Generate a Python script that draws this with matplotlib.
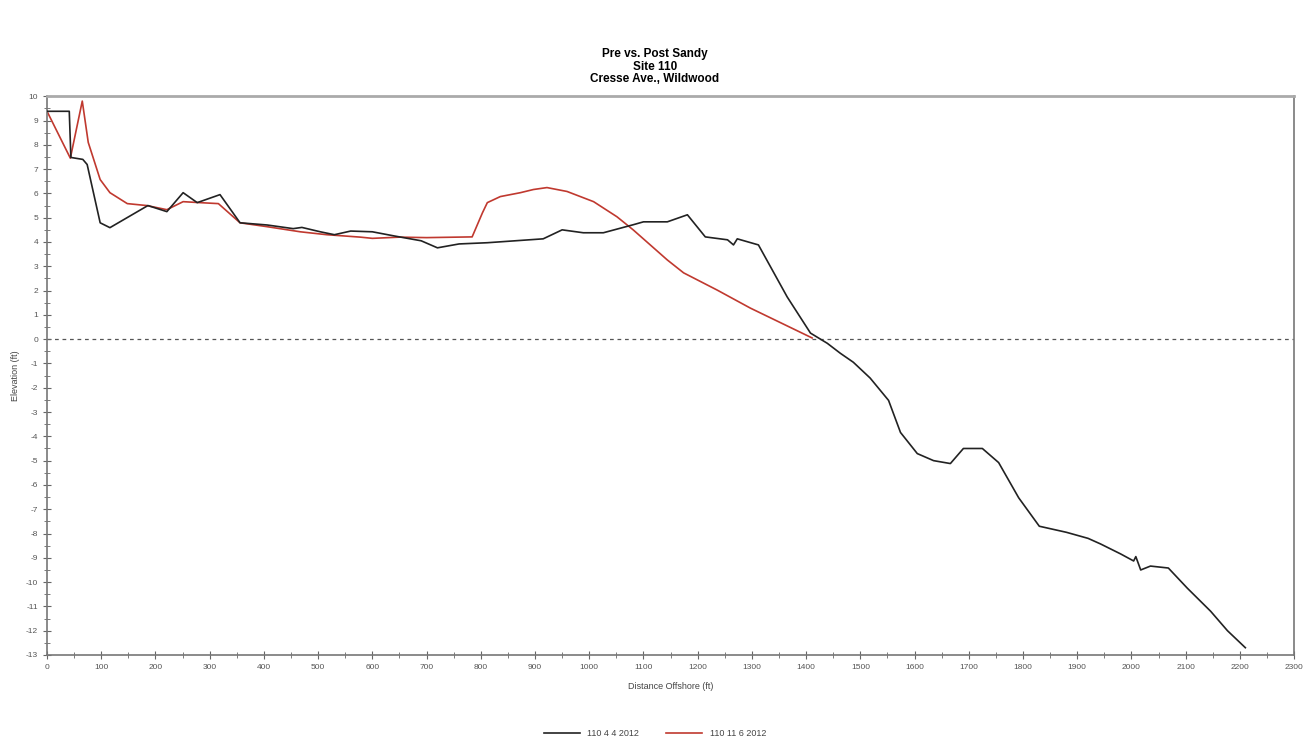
import matplotlib
matplotlib.use("Agg")
import matplotlib.pyplot as plt
from matplotlib.ticker import MultipleLocator

plt.rcParams['font.family'] = ['Liberation Sans Narrow', 'Liberation Sans', 'DejaVu Sans']
plt.rcParams['axes.unicode_minus'] = False

# pre-storm survey (110 4 4 2012)
pre_x = [0, 41, 44, 66, 74, 98, 116, 186, 221, 251, 277, 319, 356, 406, 454, 470, 504,
         530, 560, 600, 640, 690, 720, 760, 812, 915, 950, 989, 1026, 1081, 1100, 1144,
         1181, 1214, 1255, 1266, 1273, 1312, 1365, 1408, 1439, 1463, 1487, 1518, 1552,
         1574, 1605, 1635, 1666, 1690, 1725, 1755, 1792, 1830, 1880, 1920, 1943, 1980,
         2004, 2008, 2017, 2035, 2068, 2103, 2146, 2177, 2210]
pre_y = [9.38, 9.38, 7.48, 7.4, 7.19, 4.79, 4.59, 5.5, 5.25, 6.03, 5.62, 5.95, 4.79, 4.7,
         4.55, 4.6, 4.42, 4.3, 4.45, 4.42, 4.25, 4.05, 3.76, 3.92, 3.97, 4.13, 4.5, 4.38,
         4.38, 4.71, 4.83, 4.83, 5.12, 4.21, 4.09, 3.88, 4.13, 3.88, 1.74, 0.25, -0.17,
         -0.58, -0.95, -1.6, -2.52, -3.84, -4.71, -5.0, -5.12, -4.5, -4.5, -5.08, -6.53,
         -7.7, -7.95, -8.2, -8.43, -8.84, -9.13, -8.95, -9.5, -9.34, -9.42, -10.25,
         -11.2, -12.0, -12.7]

# post-storm survey (110 11 6 2012)
post_x = [0, 43, 65, 76, 98, 116, 148, 184, 221, 251, 282, 316, 356, 406, 467, 516, 541,
          578, 600, 650, 700, 784, 803, 812, 836, 873, 897, 922, 959, 1008, 1051, 1081,
          1144, 1174, 1236, 1297, 1411]
post_y = [9.38, 7.45, 9.8, 8.1, 6.57, 6.03, 5.58, 5.5, 5.33, 5.66, 5.62, 5.58, 4.79,
          4.63, 4.42, 4.3, 4.26, 4.2, 4.15, 4.2, 4.18, 4.21, 5.2, 5.62, 5.87, 6.03, 6.16,
          6.24, 6.08, 5.66, 5.04, 4.5, 3.26, 2.73, 2.02, 1.28, 0.05]

fig = plt.figure(figsize=(13.1, 7.46), dpi=100)
ax = fig.add_axes([0.0359, 0.122, 0.952, 0.749])

ax.axhline(0, color='#555555', linestyle=(0, (3, 3)), linewidth=0.9, zorder=1)
ax.plot(pre_x, pre_y, color='#222222', linewidth=1.2, label='110 4 4 2012', zorder=3)
ax.plot(post_x, post_y, color='#c0392f', linewidth=1.2, label='110 11 6 2012', zorder=2)

ax.set_xlim(0, 2300)
ax.set_ylim(-13, 10)
ax.xaxis.set_major_locator(MultipleLocator(100))
ax.xaxis.set_minor_locator(MultipleLocator(50))
ax.yaxis.set_major_locator(MultipleLocator(1))
ax.yaxis.set_minor_locator(MultipleLocator(0.5))
ax.tick_params(which='both', direction='inout', colors='#666666', labelcolor='#555555',
               labelsize=6)
ax.tick_params(which='major', length=6)
ax.tick_params(which='minor', length=4)
for side in ['left', 'bottom', 'right']:
    ax.spines[side].set_color('#777777')
    ax.spines[side].set_linewidth(1.2)
ax.spines['top'].set_color('#aaaaaa')
ax.spines['top'].set_linewidth(2.0)

ax.set_xlabel('Distance Offshore (ft)', fontsize=6.5, color='#444444', labelpad=8)
ax.set_ylabel('Elevation (ft)', fontsize=6.5, color='#444444', labelpad=4)

fig.suptitle('Pre vs. Post Sandy\nSite 110\nCresse Ave., Wildwood', y=0.935,
             fontsize=8.5, fontweight='bold', linespacing=1.05)

fig.legend(loc='center', bbox_to_anchor=(0.5, 0.017), ncol=2, frameon=False,
           fontsize=6.5, handlelength=4, columnspacing=3, labelcolor='#444444')

fig.savefig('out.png', dpi=100)
